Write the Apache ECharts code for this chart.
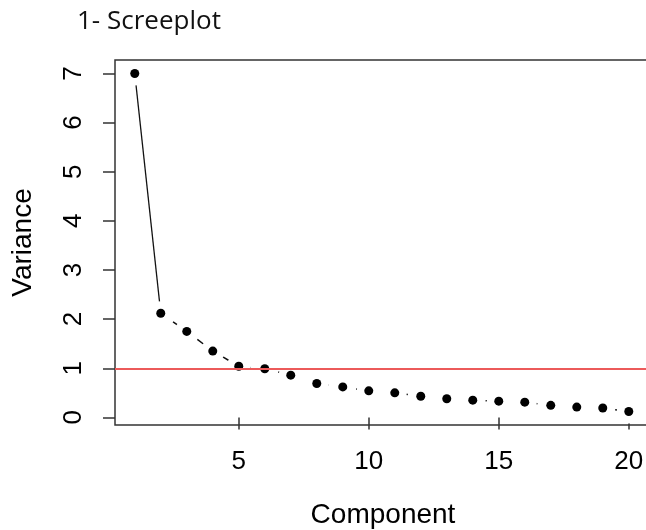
<!DOCTYPE html>
<html>
<head>
<meta charset="utf-8">
<script src="https://cdn.jsdelivr.net/npm/echarts@6/dist/echarts.min.js"></script>
<style>
html,body{margin:0;padding:0;background:#fff;}
#chart{width:646px;height:530px;}
</style>
</head>
<body>
<div id="chart"></div>
<script>
// Data
const components = [1,2,3,4,5,6,7,8,9,10,11,12,13,14,15,16,17,18,19,20];
const variances  = [7.0,2.12,1.75,1.35,1.04,0.99,0.86,0.69,0.62,0.54,0.50,0.43,0.38,0.35,0.33,0.31,0.245,0.21,0.19,0.12];
const xTicks = [5,10,15,20];
const yTicks = [0,1,2,3,4,5,6,7];
const referenceLine = 1;
const titleText = '1- Screeplot';
const xName = 'Component';
const yName = 'Variance';

const pts = components.map((c,i)=>[c, variances[i]]);
const solidSeg = pts.slice(0,2);
const dashedSeg = pts.slice(1,5);
const dottedSeg = pts.slice(4);

const chart = echarts.init(document.getElementById('chart'), null, {renderer:'canvas'});
const axisFont = {fontFamily:'Liberation Sans', fontSize:26, color:'#000'};
const nameFont = {fontFamily:'Liberation Sans', fontSize:28, color:'#000'};
chart.setOption({
  animation:false,
  backgroundColor:'#fff',
  title:{text:titleText, left:72, top:4,
    textStyle:{fontFamily:'Open Sans', fontWeight:'normal', fontSize:26, color:'#111'}},
  grid:{left:115, top:60, width:536, bottom:105, outerBoundsMode:'none', containLabel:false,
    show:true, borderColor:'#333', borderWidth:1.5, backgroundColor:'transparent'},
  xAxis:{type:'value', min:0.24, max:20.855,
    name:xName, nameLocation:'middle', nameGap:76,
    nameTextStyle:nameFont,
    axisLine:{show:false},
    splitLine:{show:false},
    axisTick:{show:true, length:12, customValues:xTicks, lineStyle:{color:'#333', width:1.5}},
    axisLabel:Object.assign({margin:24, customValues:xTicks}, axisFont)
  },
  yAxis:{type:'value', min:-0.155, max:7.275,
    name:yName, nameLocation:'middle', nameGap:78, nameRotate:90,
    nameTextStyle:nameFont,
    axisLine:{show:false},
    splitLine:{show:false},
    axisTick:{show:true, length:12, customValues:yTicks, lineStyle:{color:'#333', width:1.5}},
    axisLabel:Object.assign({margin:28, rotate:90, customValues:yTicks}, axisFont)
  },
  series:[
    {type:'line', data:solidSeg, showSymbol:false, symbol:'none', z:2,
      lineStyle:{color:'#111', width:1.3, type:'solid'}},
    {type:'line', data:dashedSeg, showSymbol:false, symbol:'none', z:2,
      lineStyle:{color:'#111', width:1.5, type:[8,7]}},
    {type:'line', data:dottedSeg, showSymbol:false, symbol:'none', z:2,
      lineStyle:{color:'#111', width:1.5, type:[2,8]}},
    {type:'scatter', data:pts, symbol:'circle', symbolSize:24, z:3, silent:true,
      itemStyle:{color:'#ffffff', opacity:1}},
    {type:'scatter', data:pts, symbol:'circle', symbolSize:9, z:4,
      itemStyle:{color:'#000000', opacity:1}},
    {type:'line', data:[], z:6,
      markLine:{silent:true, symbol:'none', label:{show:false},
        lineStyle:{color:'#ec5a5a', width:2, type:'solid'},
        data:[{yAxis:referenceLine}]}}
  ]
});
</script>
</body>
</html>
